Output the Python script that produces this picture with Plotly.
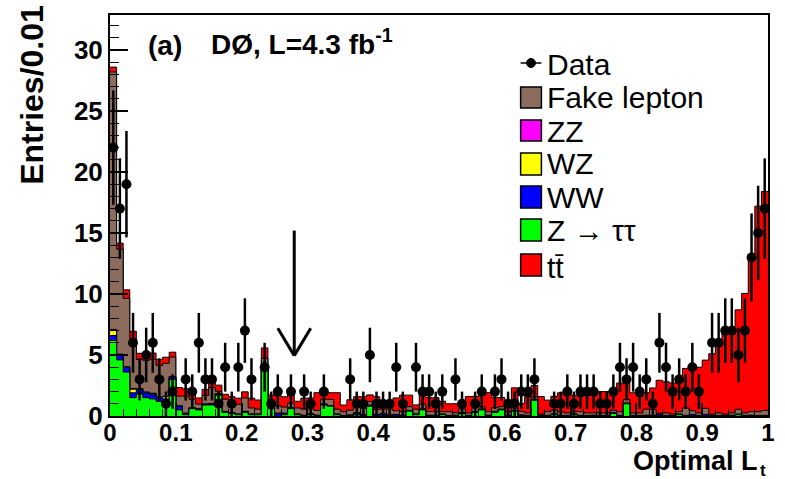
import numpy as np
import plotly.graph_objects as go

# ---------------- data (100 bins of width 0.01 in "Optimal L_t") ----------------
data_counts = [22, 17, 19, 6, 3, 5, 6, 3, 1, 2,
               0, 3, 2, 6, 3, 3, 1, 4, 1, 4,
               7, 3, 0, 4, 1, 2, 0, 2, 0, 2,
               1, 0, 2, 0, 0, 0, 3, 1, 1, 5,
               1, 1, 1, 4, 1, 0, 4, 2, 2, 1,
               2, 0, 3, 1, 0, 1, 2, 0, 2, 3,
               1, 1, 2, 2, 3, 0, 0, 1, 1, 2,
               1, 2, 2, 2, 1, 1, 2, 4, 3, 4,
               2, 3, 1, 6, 4, 2, 3, 2, 4, 2,
               0, 6, 6, 7, 7, 5, 7, 13, 15, 17]

ztautau = [6.2, 4.6, 3.6, 1.5, 1.8, 1.5, 1.4, 1.2, 1.0, 3.0,
           0.5, 0.1, 0.6, 0.5, 0.9, 0.9, 1.7, 0.3, 0.2, 0.1,
           0.3, 0.1, 0.1, 3.8, 0.6, 0.0, 0.1, 0.6, 0.1, 0.0,
           0.1, 0.0, 0.9, 0.8, 0.1, 0.0, 0.0, 0.1, 0.0, 0.8,
           0.0, 0.0, 0.0, 0.0, 0.0, 0.4, 0.1, 0.5, 0.0, 0.0,
           0.1, 0.0, 0.0, 0.2, 0.0, 0.3, 0.5, 0.0, 0.3, 0.5,
           0.0, 0.4, 0.0, 0.0, 1.3, 0.0, 0.0, 0.1, 0.0, 0.0,
           0.1, 0.0, 0.0, 0.0, 0.0, 0.0, 0.2, 0.0, 1.0, 0.0,
           0.0, 0.0, 0.0, 0.0, 0.0, 0.0, 0.1, 0.0, 0.0, 0.0,
           0.0, 0.0, 0.0, 0.0, 0.0, 0.1, 0.0, 0.0, 0.0, 0.0]

ww = [0.4, 0.4, 0.4, 0.4, 0.4, 0.4, 0.35, 0.3, 0.4, 0.2,
      0.3, 0.1, 0.05, 0.05, 0.05, 0.1, 0.1, 0.05, 0.05, 0.03,
      0.05, 0.03, 0.03, 0.1, 0.05, 0.2, 0.1, 0.03, 0.03, 0.03,
      0.05, 0.03, 0.05, 0.03, 0.03, 0.02, 0.05, 0.15, 0.1, 0.05,
      0.1, 0.15, 0.05, 0.1, 0.03, 0.03, 0.03, 0.05, 0.03, 0.03,
      0.03, 0.02, 0.03, 0.05, 0.02, 0.03, 0.03, 0.03, 0.05, 0.03,
      0.02, 0.03, 0.05, 0.02, 0.03, 0.02, 0.02, 0.03, 0.02, 0.02,
      0.03, 0.02, 0.02, 0.03, 0.02, 0.02, 0.03, 0.02, 0.03, 0.02,
      0.02, 0.03, 0.02, 0.1, 0.02, 0.02, 0.03, 0.02, 0.1, 0.02,
      0.1, 0.02, 0.02, 0.02, 0.03, 0.02, 0.02, 0.03, 0.02, 0.02]

wz = [0.4, 0.05, 0.03, 0.3, 0.03, 0.05, 0.1, 0.03, 0.2, 0.02,
      0.02, 0.02, 0.02, 0.02, 0.02, 0.02, 0.02, 0.02, 0.02, 0.02,
      0.02, 0.02, 0.02, 0.02, 0.02, 0.02, 0.02, 0.02, 0.02, 0.02,
      0.02, 0.02, 0.02, 0.02, 0.02, 0.02, 0.02, 0.02, 0.02, 0.02,
      0.02, 0.02, 0.02, 0.02, 0.02, 0.02, 0.02, 0.02, 0.02, 0.02,
      0.02, 0.02, 0.02, 0.02, 0.02, 0.02, 0.02, 0.02, 0.02, 0.02,
      0.02, 0.02, 0.02, 0.02, 0.02, 0.02, 0.02, 0.02, 0.02, 0.02,
      0.02, 0.02, 0.02, 0.02, 0.02, 0.02, 0.02, 0.02, 0.02, 0.02,
      0.02, 0.02, 0.02, 0.02, 0.02, 0.02, 0.02, 0.02, 0.02, 0.02,
      0.02, 0.02, 0.02, 0.02, 0.02, 0.02, 0.02, 0.02, 0.02, 0.02]

zz = [0.1, 0.02, 0.01, 0.05, 0.01, 0.01, 0.01, 0.01, 0.02, 0.01,
      0.01, 0.01, 0.01, 0.01, 0.01, 0.01, 0.01, 0.01, 0.01, 0.01,
      0.01, 0.01, 0.01, 0.01, 0.01, 0.01, 0.01, 0.01, 0.01, 0.01,
      0.01, 0.01, 0.01, 0.01, 0.01, 0.01, 0.01, 0.01, 0.01, 0.01,
      0.01, 0.01, 0.01, 0.01, 0.01, 0.01, 0.01, 0.01, 0.01, 0.01,
      0.01, 0.01, 0.01, 0.01, 0.01, 0.01, 0.01, 0.01, 0.01, 0.01,
      0.01, 0.01, 0.01, 0.01, 0.01, 0.01, 0.01, 0.01, 0.01, 0.01,
      0.01, 0.01, 0.01, 0.01, 0.01, 0.01, 0.01, 0.01, 0.01, 0.01,
      0.01, 0.01, 0.01, 0.01, 0.01, 0.01, 0.01, 0.01, 0.01, 0.01,
      0.01, 0.01, 0.01, 0.01, 0.01, 0.01, 0.01, 0.01, 0.01, 0.01]

fake = [21.1, 8.6, 5.6, 4.1, 2.4, 2.6, 2.8, 2.6, 2.7, 1.6,
        0.8, 1.4, 0.7, 0.4, 0.7, 1.3, 0.2, 1.0, 0.8, 0.8,
        1.1, 0.5, 0.4, 0.8, 0.5, 0.6, 0.5, 0.4, 0.5, 0.5,
        0.4, 0.4, 0.4, 0.5, 0.4, 0.3, 0.4, 0.6, 0.5, 0.3,
        0.4, 0.4, 0.5, 0.3, 0.3, 0.3, 0.4, 0.4, 0.3, 0.3,
        0.2, 0.3, 0.2, 0.3, 0.2, 0.3, 0.2, 0.3, 0.3, 0.2,
        0.3, 0.2, 0.3, 0.2, 0.2, 0.1, 0.3, 0.3, 0.3, 0.2,
        0.2, 0.3, 0.2, 0.2, 0.2, 0.2, 0.2, 0.3, 0.3, 0.2,
        0.2, 0.5, 0.5, 0.1, 0.2, 0.1, 0.2, 0.6, 0.3, 0.2,
        0.5, 0.1, 0.2, 0.1, 0.2, 0.4, 0.2, 0.3, 0.3, 0.4]

ttbar = [0.4, 0.5, 0.7, 0.6, 0.5, 0.5, 0.5, 0.5, 0.5, 0.4,
         0.7, 0.6, 0.6, 0.5, 0.5, 0.6, 0.5, 0.4, 0.5, 0.5,
         0.5, 0.8, 0.75, 0.85, 0.55, 0.85, 0.85, 0.85, 0.55, 0.9,
         0.9, 1.45, 0.55, 0.55, 1.35, 0.55, 0.85, 0.7, 0.95, 0.55,
         1.05, 0.4, 0.45, 1.05, 1.35, 0.95, 0.35, 0.85, 1.15, 1.15,
         0.85, 0.65, 0.75, 0.45, 1.35, 0.95, 1.15, 1.55, 0.85, 0.75,
         0.85, 1.65, 0.65, 1.35, 0.95, 1.45, 0.95, 1.15, 1.55, 1.45,
         1.35, 1.25, 1.45, 1.65, 1.75, 1.75, 1.35, 2.35, 1.35, 1.65,
         1.35, 1.35, 1.75, 2.7, 2.55, 2.55, 2.6, 3.25, 3.45, 3.75,
         3.95, 4.95, 5.55, 6.65, 6.95, 8.15, 9.8, 12.55, 16.85, 17.95]

x_ticks = [0, 0.1, 0.2, 0.3, 0.4, 0.5, 0.6, 0.7, 0.8, 0.9, 1]
x_tick_text = ["0", "0.1", "0.2", "0.3", "0.4", "0.5", "0.6", "0.7", "0.8", "0.9", "1"]
y_ticks = [0, 5, 10, 15, 20, 25, 30]

bin_width = 0.01
cut_value = 0.28

# ---------------- geometry helpers ----------------
W, H = 785, 479
L, R, T, B = 110, 10, 15, 63
PW, PH = W - L - R, H - T - B


def px(x):
    return (x - L) / PW


def py(y):
    return (H - B - y) / PH


FONT = "Liberation Sans, Arial, Helvetica, sans-serif"

edges = np.round(np.arange(len(data_counts) + 1) * bin_width, 4)
centers = edges[:-1] + bin_width / 2

# cumulative stacks (bottom -> top): Z->tautau, WW, WZ, ZZ, fake, ttbar
comps = [ztautau, ww, wz, zz, fake, ttbar]
cols = ["#00ff00", "#0000ff", "#ffff00", "#ff00ff", "rgb(140,108,92)", "#ff0000"]
cum = np.cumsum(np.array(comps, dtype=float), axis=0)

fig = go.Figure()
for k in range(len(comps) - 1, -1, -1):
    yv = list(cum[k]) + [cum[k][-1]]
    fig.add_trace(go.Scatter(
        x=edges, y=yv, mode="lines", line=dict(shape="hv", color="black", width=1),
        fill="tozeroy", fillcolor=cols[k], showlegend=False, hoverinfo="skip"))

# data points
dc = np.array(data_counts, dtype=float)
mask = dc > 0
fig.add_trace(go.Scatter(
    x=centers[mask], y=dc[mask], mode="markers",
    marker=dict(color="black", size=10),
    error_y=dict(type="data", array=np.sqrt(dc[mask]), color="black", thickness=2.5, width=0),
    showlegend=False))

shapes = []
annotations = []

# cut arrow
shapes.append(dict(type="line", xref="x", yref="y", x0=cut_value, x1=cut_value, y0=15.2, y1=5.0,
                   line=dict(color="black", width=3)))
shapes.append(dict(type="line", xref="x", yref="y", x0=cut_value - 0.025, x1=cut_value, y0=7.2, y1=4.95,
                   line=dict(color="black", width=3)))
shapes.append(dict(type="line", xref="x", yref="y", x0=cut_value + 0.025, x1=cut_value, y0=7.2, y1=4.95,
                   line=dict(color="black", width=3)))

# legend (drawn manually, ROOT style)
LEG_FS = 30
shapes.append(dict(type="line", xref="paper", yref="paper", x0=px(525), x1=px(546), y0=py(63), y1=py(63),
                   line=dict(color="black", width=1.5)))
shapes.append(dict(type="circle", xref="paper", yref="paper", x0=px(531), x1=px(540), y0=py(58.5), y1=py(67.5),
                   fillcolor="black", line=dict(color="black", width=1)))
annotations.append(dict(text="Data", x=px(550), y=py(64), xref="paper", yref="paper",
                        xanchor="left", yanchor="middle", showarrow=False,
                        font=dict(family=FONT, size=LEG_FS, color="black")))

leg_items = [("Fake lepton", cols[4], 87, 108, 97.5),
             ("ZZ", cols[3], 120, 141, 131),
             ("WZ", cols[2], 153, 175, 164),
             ("WW", cols[1], 186, 208, 197),
             ("Z \u2192 \u03c4\u03c4", cols[0], 219, 241, 230),
             ("tt\u0304", cols[5], 254, 276, 267)]
for name, c, y0, y1, yt in leg_items:
    shapes.append(dict(type="rect", xref="paper", yref="paper", x0=px(525), x1=px(546), y0=py(y1), y1=py(y0),
                       fillcolor=c, line=dict(color="black", width=1.5)))
    annotations.append(dict(text=name, x=px(550), y=py(yt), xref="paper", yref="paper",
                            xanchor="left", yanchor="middle", showarrow=False,
                            font=dict(family=FONT, size=LEG_FS, color="black")))

# title texts
annotations.append(dict(text="(a)", x=px(146), y=py(45), xref="paper", yref="paper",
                        xanchor="left", yanchor="middle", showarrow=False,
                        font=dict(family=FONT, size=28, color="black", weight="bold")))
annotations.append(dict(text="D\u00d8, L=4.3 fb<sup>-1</sup>", x=px(210), y=py(42), xref="paper", yref="paper",
                        xanchor="left", yanchor="middle", showarrow=False,
                        font=dict(family=FONT, size=28, color="black", weight="bold")))

# axis titles
annotations.append(dict(text="Entries/0.01", x=px(31), y=py(3), xref="paper", yref="paper",
                        xanchor="center", yanchor="top", textangle=-90, showarrow=False,
                        font=dict(family=FONT, size=32, color="black", weight="bold")))
annotations.append(dict(text="Optimal L", x=px(766), y=py(461), xref="paper", yref="paper",
                        xanchor="right", yanchor="middle", showarrow=False, borderpad=0,
                        font=dict(family=FONT, size=27, color="black", weight="bold")))
annotations.append(dict(text="t", x=px(766), y=py(470), xref="paper", yref="paper",
                        xanchor="left", yanchor="middle", showarrow=False, borderpad=0,
                        font=dict(family=FONT, size=17, color="black", weight="bold")))

fig.update_layout(
    width=W, height=H,
    margin=dict(l=L, r=R, t=T, b=B),
    paper_bgcolor="white", plot_bgcolor="white",
    shapes=shapes, annotations=annotations,
    showlegend=False,
    xaxis=dict(range=[0, 1], tickvals=x_ticks, ticktext=x_tick_text,
               ticks="inside", ticklen=13, tickwidth=1.5, tickcolor="black",
               ticklabelstandoff=-6,
               minor=dict(dtick=0.02, ticks="inside", ticklen=7, tickcolor="black", tickwidth=1),
               showline=True, linecolor="black", linewidth=2, mirror=True,
               showgrid=False, zeroline=False,
               tickfont=dict(family=FONT, size=24, color="black", weight="bold")),
    yaxis=dict(range=[0, PH / 12.2], tickvals=y_ticks,
               ticks="inside", ticklen=18, tickwidth=1.5, tickcolor="black",
               minor=dict(dtick=1, ticks="inside", ticklen=9, tickcolor="black", tickwidth=1),
               showline=True, linecolor="black", linewidth=2, mirror=True,
               showgrid=False, zeroline=False,
               tickfont=dict(family=FONT, size=26, color="black", weight="bold")),
)

fig.write_html("out.html")
